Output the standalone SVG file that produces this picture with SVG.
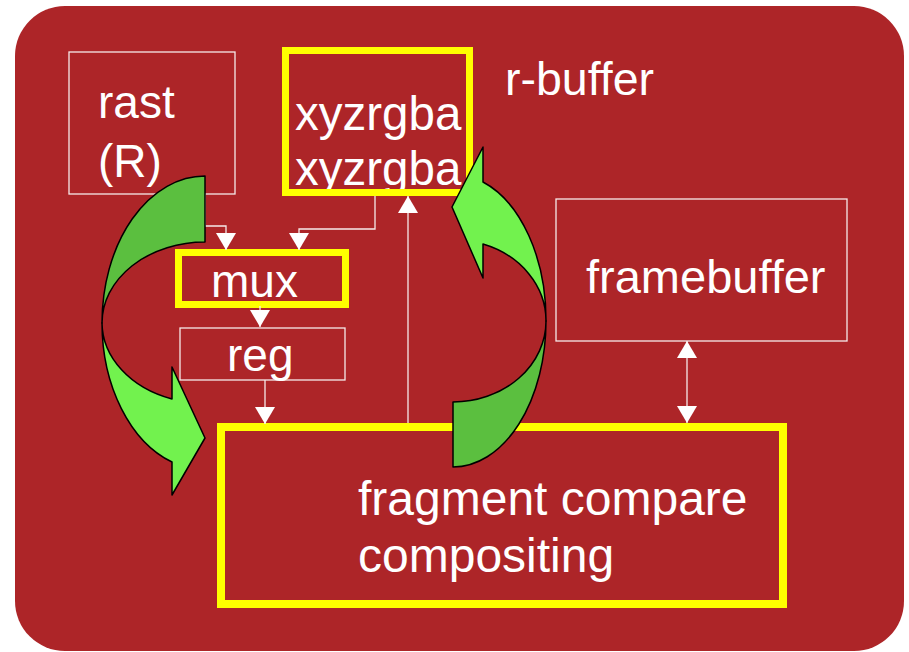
<svg xmlns="http://www.w3.org/2000/svg" width="909" height="652" viewBox="0 0 909 652">
<style>
.lbl{font-family:"Liberation Sans",Arial,sans-serif;font-size:46px;fill:#FFFFFF}
.thin{fill:none;stroke:#F6EAEA;stroke-width:1.3}
.yel{fill:none;stroke:#FFFF00;stroke-width:7}
.con{fill:none;stroke:#F6EAEA;stroke-width:1.3}
.dark{fill:#5BBF3F;stroke:#000;stroke-width:1.5;stroke-linejoin:round}
.light{fill:#72F24E;stroke:#000;stroke-width:1.5;stroke-linejoin:round}
</style>
<defs>
<marker id="ah" viewBox="0 0 17 20" refX="17" refY="10" markerWidth="17" markerHeight="20" markerUnits="userSpaceOnUse" orient="auto-start-reverse">
<path d="M0,0 L17,10 L0,20 Z" fill="#FFFFFF"/>
</marker>
</defs>
<rect x="0" y="0" width="909" height="652" fill="#FFFFFF"/>
<rect x="15" y="6" width="889" height="645" rx="50" ry="50" fill="#AD2528"/>

<g id="rast">
<rect class="thin" x="69" y="52" width="166" height="142"/>
<text class="lbl" x="98" y="118">rast</text>
<text class="lbl" x="98" y="177">(R)</text>
</g>

<g id="rbuffer">
<text class="lbl" style="font-size:47.5px" x="295" y="130">xyzrgba</text>
<text class="lbl" style="font-size:47.5px" x="295" y="185">xyzrgba</text>
<rect class="yel" x="285.5" y="50.5" width="184" height="142"/>
<text class="lbl" style="font-size:46.5px" x="505" y="95">r-buffer</text>
</g>

<g id="mux">
<rect class="yel" x="178.5" y="252.5" width="167" height="52"/>
<text class="lbl" x="211" y="297">mux</text>
</g>

<g id="reg">
<rect class="thin" x="180" y="328" width="165" height="52"/>
<text class="lbl" x="227" y="371">reg</text>
</g>

<g id="framebuffer">
<rect class="thin" x="556" y="199" width="291" height="142"/>
<text class="lbl" style="font-size:47px" x="586" y="293">framebuffer</text>
</g>

<g id="fragment">
<rect fill="none" stroke="#FFFF00" stroke-width="8" x="221" y="427" width="562" height="177"/>
<text class="lbl" style="font-size:48px" x="358" y="515">fragment compare</text>
<text class="lbl" style="font-size:48px" x="358" y="572">compositing</text>
</g>

<g id="connectors">
<path class="con" d="M205,194 V226 H226 V250" marker-end="url(#ah)"/>
<path class="con" d="M375,196 V229 H299 V250" marker-end="url(#ah)"/>
<path class="con" d="M260,306 V327" marker-end="url(#ah)"/>
<path class="con" d="M265,380 V424" marker-end="url(#ah)"/>
<path class="con" d="M408,423 V196" marker-end="url(#ah)"/>
<path class="con" d="M687,341 V423" marker-start="url(#ah)" marker-end="url(#ah)"/>
</g>

<g id="cycle-arrows">
<g id="arrow-left">
<path class="dark" d="M205,176 A103,147 0 0 0 102,323 A103,81 0 0 1 205,242 Z"/>
<path class="light" d="M102,323 A103,147 0 0 0 172,462 L172,495 L205,438 L172,367 L172,399 A103,81 0 0 1 102,323 Z"/>
</g>
<g id="arrow-right">
<path class="dark" d="M453,467 A93,146 0 0 0 546,321 A93,81 0 0 1 453,402 Z"/>
<path class="light" d="M546,321 A93,146 0 0 0 483,182 L483,147 L452,207 L483,278 L483,244 A93,81 0 0 1 546,321 Z"/>
</g>
</g>
</svg>
